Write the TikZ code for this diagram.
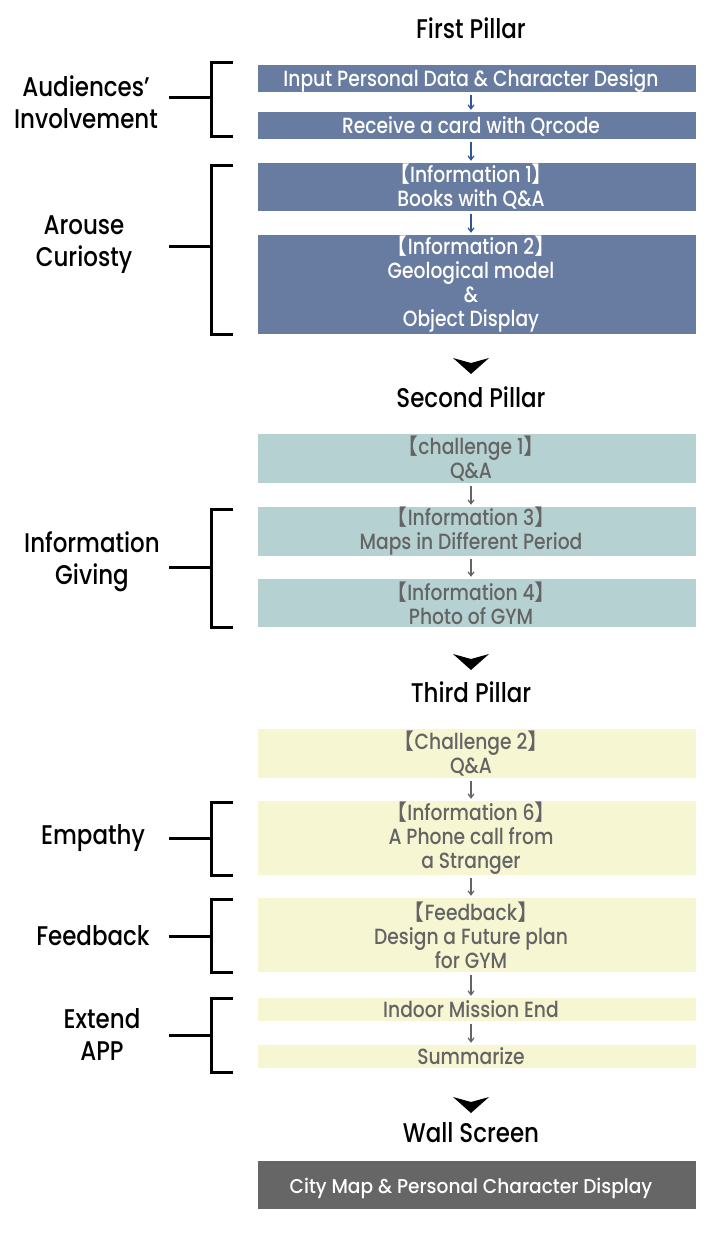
\documentclass[tikz,border=0pt]{standalone}
\usepackage{fontspec}
\IfFontExistsTF{Poppins Medium}
  {\setmainfont{Poppins Medium}[FakeStretch=0.85]
   \newfontfamily\widefont{Poppins Medium}[FakeStretch=0.93]}
  {\setmainfont{Poppins}[FakeStretch=0.85]
   \newfontfamily\widefont{Poppins}[FakeStretch=0.93]}
\newfontfamily\cjkfont{Noto Sans CJK SC}
\usetikzlibrary{arrows.meta,positioning}
\definecolor{pillarblue}{RGB}{104,123,160}
\definecolor{arrowblue}{RGB}{47,85,151}
\definecolor{pillarteal}{RGB}{181,209,209}
\definecolor{pillaryellow}{RGB}{246,246,210}
\definecolor{pillargray}{RGB}{102,102,102}
\definecolor{textgray}{RGB}{100,100,100}
\newcommand{\lbr}{{\cjkfont 【}}
\newcommand{\rbr}{{\cjkfont 】}}

\begin{document}
\begin{tikzpicture}[x=1pt, y=-1pt, >={Straight Barb[length=4pt,width=6pt]},
    every node/.style={inner sep=0pt, align=center},
    % box is 426pt round the text, widened by 12pt on its right
    pbox/.style={minimum width=426pt, fill=#1, font=\fontsize{22}{24}\selectfont,
      append after command={\pgfextra{\fill[#1] ([xshift=-1pt]\tikzlastnode.north east)
        rectangle ([xshift=12pt]\tikzlastnode.south east);}}},
    oneline/.style={text height=16pt, text depth=0pt},
    firstbox/.style={pbox=pillarblue, text=white},
    secondbox/.style={pbox=pillarteal, text=textgray},
    thirdbox/.style={pbox=pillaryellow, text=textgray},
    wallbox/.style={pbox=pillargray, text=white, font=\widefont\fontsize{20}{24}\selectfont},
    pillartitle/.style={font=\fontsize{27}{30}\selectfont},
    sidelabel/.style={font=\fontsize{27}{32}\selectfont},
    brack/.style={line width=3pt},
    flow/.style={->, line width=1.2pt, arrowblue, shorten <=3pt, shorten >=2pt},
    grayflow/.style={flow, textgray}]
  \useasboundingbox (0,0) rectangle (718,1252);

  % --- First Pillar ---
  \node[pillartitle] (first) at (471,28) {First Pillar};
  \node[firstbox, oneline, minimum height=27pt] (input) at (471,78.5) {Input Personal Data \& Character Design};
  \node[firstbox, oneline, minimum height=27pt] (card) at (471,125.5) {Receive a card with Qrcode};
  \node[firstbox, minimum height=48pt] (info1) at (471,187) {\lbr Information 1\rbr\\Books with Q\&A};
  \node[firstbox, minimum height=99pt] (info2) at (471,284.5) {\lbr Information 2\rbr\\Geological model\\\&\\Object Display};
  \draw[flow] (input) -- (card);
  \draw[flow] (card) -- (info1);
  \draw[flow] (info1) -- (info2);

  % --- Second Pillar ---
  \node[pillartitle] (second) at (471,397) {Second Pillar};
  \node[secondbox, minimum height=49pt] (chal1) at (471,458.5) {\lbr challenge 1\rbr\\Q\&A};
  \node[secondbox, minimum height=49pt] (info3) at (471,531.5) {\lbr Information 3\rbr\\Maps in Different Period};
  \node[secondbox, minimum height=48pt] (info4) at (471,603) {\lbr Information 4\rbr\\Photo of GYM};
  \draw[grayflow] (chal1) -- (info3);
  \draw[grayflow] (info3) -- (info4);

  % --- Third Pillar ---
  \node[pillartitle] (third) at (471,692) {Third Pillar};
  \node[thirdbox, minimum height=49pt] (chal2) at (471,753.5) {\lbr Challenge 2\rbr\\Q\&A};
  \node[thirdbox, minimum height=74pt] (info6) at (471,838) {\lbr Information 6\rbr\\A Phone call from\\a Stranger};
  \node[thirdbox, minimum height=74pt] (feed) at (471,935) {\lbr Feedback\rbr\\Design a Future plan\\for GYM};
  \node[thirdbox, oneline, minimum height=23pt] (indoor) at (471,1009.5) {Indoor Mission End};
  \node[thirdbox, oneline, minimum height=23pt] (summ) at (471,1056.5) {Summarize};
  \draw[grayflow] (chal2) -- (info6);
  \draw[grayflow] (info6) -- (feed);
  \draw[grayflow] (feed) -- (indoor);
  \draw[grayflow] (indoor) -- (summ);

  % --- Wall Screen ---
  \node[pillartitle] (wall) at (471,1133) {Wall Screen};
  \node[wallbox, oneline, minimum height=48pt] (citymap) at (471,1185) {City Map \& Personal Character Display};

  % chevrons between pillars
  \foreach \y in {358,654,1097}
    \fill (453,\y) -- (471,\y+5) -- (489,\y) -- (471,\y+16) -- cycle;

  % side labels
  \node[sidelabel] (aud) at (86,102) {Audiences’\\Involvement};
  \node[sidelabel] (arouse) at (84,245) {Arouse\\Curiosty};
  \node[sidelabel] (giving) at (92,562) {Information\\Giving};
  \node[sidelabel] (empathy) at (93,838) {Empathy};
  \node[sidelabel] (feedback) at (93,936) {Feedback};
  \node[sidelabel] (extend) at (102,1034) {Extend\\APP};

  % brackets: top/bottom/stem
  \foreach \t/\b/\m in {63/137/98, 166/334/246, 509/627/567, 802/875/838, 899/972/936, 998/1072/1035} {
    \draw[brack] (233,\t) -- (211,\t) -- (211,\b) -- (233,\b);
    \draw[brack] (169,\m) -- (211,\m);
  }
\end{tikzpicture}
\end{document}
